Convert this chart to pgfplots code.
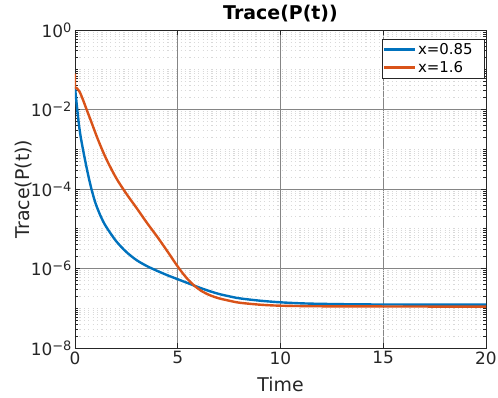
\documentclass[border=0pt]{standalone}
\usepackage{fontspec}
\setmainfont{DejaVu Sans}
\usepackage{pgfplots}
\pgfplotsset{compat=1.18}
\definecolor{mblue}{rgb}{0,0.447,0.741}
\definecolor{morange}{rgb}{0.851,0.325,0.098}
\definecolor{tc}{rgb}{0.15,0.15,0.15}
\newcommand{\pw}[1]{10\raisebox{5bp}{\fontsize{13}{13}\selectfont #1}}
\begin{document}
\begin{tikzpicture}
\useasboundingbox (-75bp,-50bp) rectangle (423bp,348bp);
\begin{axis}[
  scale only axis, width=411bp, height=318bp,
  ymode=log, xmin=0, xmax=20, ymin=1e-8, ymax=1,
  xtick={0,5,10,15,20}, xticklabels={0,5,10,15,20},
  ytick={1e-8,1e-6,1e-4,1e-2,1},
  yticklabels={\pw{−8},\pw{−6},\pw{−4},\pw{−2},\pw{0}},
  minor ytick={2e-8,3e-8,4e-8,5e-8,6e-8,7e-8,8e-8,9e-8,
    1e-7,2e-7,3e-7,4e-7,5e-7,6e-7,7e-7,8e-7,9e-7,
    2e-6,3e-6,4e-6,5e-6,6e-6,7e-6,8e-6,9e-6,
    1e-5,2e-5,3e-5,4e-5,5e-5,6e-5,7e-5,8e-5,9e-5,
    2e-4,3e-4,4e-4,5e-4,6e-4,7e-4,8e-4,9e-4,
    1e-3,2e-3,3e-3,4e-3,5e-3,6e-3,7e-3,8e-3,9e-3,
    2e-2,3e-2,4e-2,5e-2,6e-2,7e-2,8e-2,9e-2,
    1e-1,2e-1,3e-1,4e-1,5e-1,6e-1,7e-1,8e-1,9e-1},
  tick label style={font=\fontsize{17}{17}\selectfont, color=tc},
  major tick length=5bp, minor tick length=3bp,
  tick style={tc, line width=0.6bp},
  axis line style={tc, line width=0.7bp},
  grid=both,
  major grid style={black!48, line width=0.6bp},
  minor grid style={black!15, line width=0.6bp, dash pattern=on 1.2bp off 3.2bp},
  title={\textbf{Trace(P(t))}},
  title style={font=\fontsize{19}{19}\selectfont, color=black, inner sep=0pt, anchor=base, at={(axis description cs:0.5,1.013)}},
  xlabel={Time},
  xlabel style={font=\fontsize{19}{19}\selectfont, color=tc, inner sep=0pt, anchor=base, at={(axis description cs:0.5,-0.1374)}},
  ylabel={Trace(P(t))},
  ylabel style={font=\fontsize{19}{19}\selectfont, color=tc, inner sep=0pt, rotate=0, anchor=south, at={(axis description cs:-0.105,0.5)}},
  legend style={at={(axis description cs:0.9976,0.9717)}, anchor=north east, draw=tc, fill=white, line width=0.6bp,
    font=\fontsize{15}{15}\selectfont, inner xsep=0bp, inner ysep=2bp, row sep=1.5bp},
  legend cell align=left,
  legend image code/.code={\path (0bp,0bp) -- (31bp,0bp); \draw[#1, line width=2.4bp] (3bp,0bp) -- (31bp,0bp);},
]
\addplot[mblue, line width=2.4bp, smooth, tension=0.5] coordinates {
(0,0.0372) (0.03,0.0251) (0.07,0.01585) (0.12,8.91e-3) (0.18,4.68e-3) (0.25,2.51e-3)
(0.35,1.26e-3) (0.5,5.01e-4) (0.65,2.14e-4) (0.8,1.0e-4) (1.0,4.37e-5) (1.25,2.065e-5)
(1.5,1.16e-5) (2.0,4.9e-6) (2.5,2.6e-6) (3.0,1.62e-6) (3.5,1.15e-6) (4.0,8.71e-7)
(4.5,6.76e-7) (5.0,5.37e-7) (5.5,4.27e-7) (6.0,3.39e-7) (6.5,2.75e-7) (7.0,2.29e-7)
(7.5,2.0e-7) (8.0,1.78e-7) (9,1.55e-7) (10,1.41e-7) (11,1.33e-7) (12,1.29e-7)
(14,1.25e-7) (17,1.236e-7) (20,1.23e-7)};
\addlegendentry{x=0.85\hspace*{10bp}}
\addplot[morange, line width=2.4bp, smooth, tension=0.5] coordinates {
(0,0.08) (0.003,0.0372) (0.1,0.0339) (0.23,0.0275) (0.4,0.0170) (0.55,0.01047)
(0.8,4.79e-3) (1.12,1.74e-3) (1.5,6.03e-4) (2.0,1.905e-4) (2.5,7.59e-5)
(3.0,3.31e-5) (3.5,1.41e-5) (4.0,6.31e-6) (4.5,2.69e-6) (5.0,1.12e-6)
(5.4,6.03e-7) (5.8,3.72e-7) (6.2,2.63e-7) (6.6,2.09e-7) (7.0,1.78e-7)
(7.5,1.55e-7) (8.0,1.38e-7) (9.0,1.23e-7) (10,1.16e-7) (12,1.12e-7)
(15,1.11e-7) (20,1.096e-7)};
\addlegendentry{x=1.6}
\end{axis}
\end{tikzpicture}
\end{document}
